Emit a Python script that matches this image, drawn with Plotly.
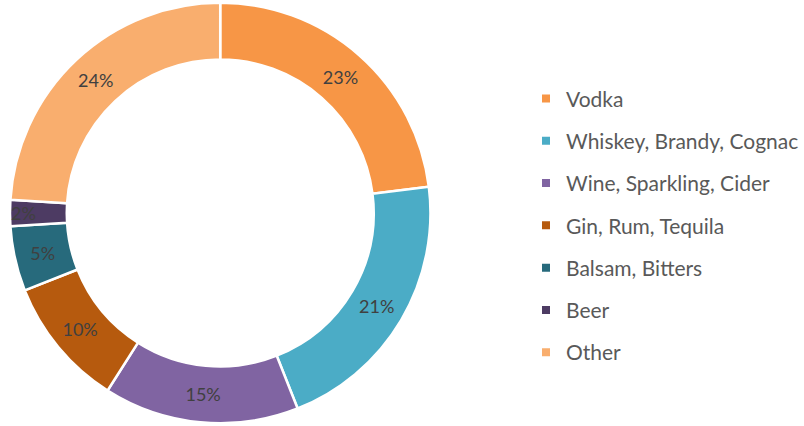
import plotly.graph_objects as go

labels = ["Vodka", "Whiskey, Brandy, Cognac", "Wine, Sparkling, Cider",
          "Gin, Rum, Tequila", "Balsam, Bitters", "Beer", "Other"]
values = [23, 21, 15, 10, 5, 2, 24]
colors = ["#F79646", "#4BACC6", "#8064A2", "#B65A0E", "#276A7C", "#4D3B63", "#F9AE6E"]

fig = go.Figure()
fig.add_trace(go.Pie(
    labels=labels, values=values, sort=False, direction="clockwise", rotation=0,
    hole=0.73, marker=dict(colors=colors, line=dict(color="white", width=2.5)),
    textinfo="percent", textposition="inside", insidetextorientation="horizontal",
    textfont=dict(family="Lato", size=18, color="#404040"),
    showlegend=False, hoverinfo="label+percent",
    domain=dict(x=[10/804, 431/804], y=[0, 1]),
))
for i, (lab, col) in enumerate(zip(labels, colors)):
    fig.add_trace(go.Scatter(
        x=[None], y=[None], mode="markers", name=lab, legendgroup=f"g{i}",
        marker=dict(symbol="square", size=8, color=col), showlegend=True,
    ))

fig.update_layout(
    width=804, height=426, margin=dict(l=0, r=0, t=0, b=0),
    paper_bgcolor="white", plot_bgcolor="white",
    xaxis=dict(visible=False), yaxis=dict(visible=False),
    uniformtext=dict(minsize=18, mode="show"),
    legend=dict(x=0.655, y=0.47, xanchor="left", yanchor="middle",
                font=dict(family="Lato", size=21, color="#595959"),
                tracegroupgap=12, itemclick=False),
)
fig.write_html("out.html")
